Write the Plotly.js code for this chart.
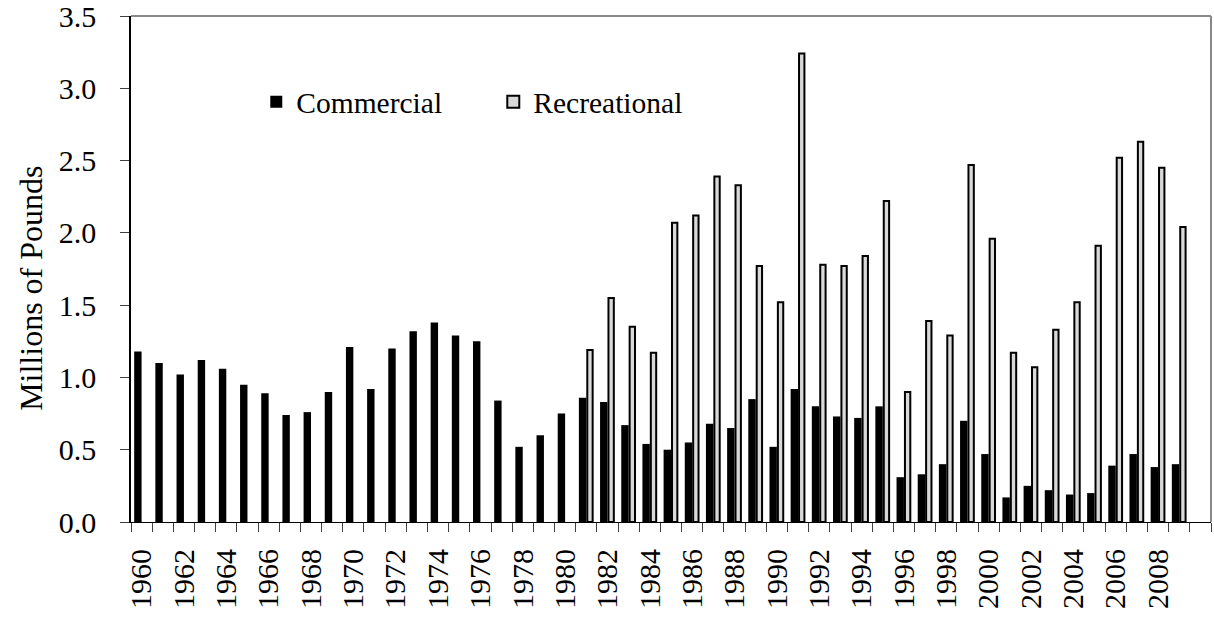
<!DOCTYPE html>
<html>
<head>
<meta charset="utf-8">
<script src="https://cdn.plot.ly/plotly-3.0.1.min.js"></script>
<style>
  html, body { margin: 0; padding: 0; background: #fff; }
  #chart { width: 1214px; height: 617px; }
</style>
</head>
<body>
<div id="chart"></div>
<script>
// Years (categories) — 2010 is an empty slot at the right end of the axis
const years = ["1960","1961","1962","1963","1964","1965","1966","1967","1968","1969",
  "1970","1971","1972","1973","1974","1975","1976","1977","1978","1979",
  "1980","1981","1982","1983","1984","1985","1986","1987","1988","1989",
  "1990","1991","1992","1993","1994","1995","1996","1997","1998","1999",
  "2000","2001","2002","2003","2004","2005","2006","2007","2008","2009","2010"];

// Commercial landings (millions of pounds)
const commercial = [1.18, 1.10, 1.02, 1.12, 1.06, 0.95, 0.89, 0.74, 0.76, 0.90,
  1.21, 0.92, 1.20, 1.32, 1.38, 1.29, 1.25, 0.84, 0.52, 0.60,
  0.75, 0.86, 0.83, 0.67, 0.54, 0.50, 0.55, 0.68, 0.65, 0.85,
  0.52, 0.92, 0.80, 0.73, 0.72, 0.80, 0.31, 0.33, 0.40, 0.70,
  0.47, 0.17, 0.25, 0.22, 0.19, 0.20, 0.39, 0.47, 0.38, 0.40, null];

// Recreational landings (millions of pounds)
const recreational = [null, null, null, null, null, null, null, null, null, null,
  null, null, null, null, null, null, null, null, null, null,
  null, 1.19, 1.55, 1.35, 1.17, 2.07, 2.12, 2.39, 2.33, 1.77,
  1.52, 3.24, 1.78, 1.77, 1.84, 2.22, 0.90, 1.39, 1.29, 2.47,
  1.96, 1.17, 1.07, 1.33, 1.52, 1.91, 2.52, 2.63, 2.45, 2.04, null];

// Tick labels: every other year
const tickLabels = years.map(y => (parseInt(y, 10) % 2 === 0 && y !== "2010") ? y : "");
const yTickVals = [0, 0.5, 1, 1.5, 2, 2.5, 3, 3.5];
const yTickText = ["0.0", "0.5", "1.0", "1.5", "2.0", "2.5", "3.0", "3.5"];

const FONT = "Liberation Serif";

const traces = [
  {
    type: "bar", name: "Commercial", x: years, y: commercial,
    offset: -0.35, width: 0.35,
    marker: { color: "#000000", line: { color: "#000000", width: 0 } },
    hoverinfo: "x+y"
  },
  {
    type: "bar", name: "Recreational", x: years, y: recreational,
    offset: 0.047, width: 0.253,
    marker: { color: "#d9d9d9", line: { color: "#000000", width: 2 } },
    hoverinfo: "x+y"
  }
];

const layout = {
  width: 1214, height: 617,
  margin: { l: 131, r: 3, t: 16, b: 95 },
  paper_bgcolor: "#ffffff", plot_bgcolor: "#ffffff",
  font: { family: FONT, size: 30, color: "#000000" },
  barmode: "overlay",
  showlegend: true,
  legend: {
    orientation: "h", x: 0.116, xanchor: "left", y: 0.83, yanchor: "middle",
    font: { family: FONT, size: 29.5, color: "#000" },
    bgcolor: "rgba(0,0,0,0)", entrywidth: 192, entrywidthmode: "pixels",
    itemclick: false, itemdoubleclick: false
  },
  xaxis: {
    type: "category", range: [-0.5, 50.5], fixedrange: true,
    tickmode: "array", tickvals: years, ticktext: tickLabels,
    tickson: "boundaries", ticks: "outside", ticklen: 9, tickwidth: 1, tickcolor: "#404040",
    tickangle: -90, ticklabelstandoff: 14, ticklabeloverflow: "allow",
    tickfont: { family: FONT, size: 30, color: "#000" },
    showline: true, linecolor: "#000000", linewidth: 1.2,
    showgrid: false, zeroline: false
  },
  yaxis: {
    range: [0, 3.5], tickmode: "array",
    tickvals: yTickVals, ticktext: yTickText,
    fixedrange: true,
    ticks: "outside", ticklen: 9, tickwidth: 1, tickcolor: "#404040",
    ticklabelstandoff: 18, ticklabeloverflow: "allow",
    tickfont: { family: FONT, size: 30, color: "#000" },
    showline: true, linecolor: "#000000", linewidth: 1.5,
    showgrid: false, zeroline: false
  },
  shapes: [
    { type: "line", xref: "paper", yref: "paper", x0: 0, x1: 1, y0: 1, y1: 1,
      line: { color: "#888888", width: 2 } },
    { type: "line", xref: "paper", yref: "paper", x0: 1, x1: 1, y0: 0, y1: 1,
      line: { color: "#888888", width: 2 } }
  ],
  annotations: [
    { text: "Millions of Pounds", xref: "paper", yref: "paper",
      x: -0.092, y: 0.462, xanchor: "center", yanchor: "middle",
      textangle: -90, showarrow: false,
      font: { family: FONT, size: 32, color: "#000" } }
  ]
};

Plotly.newPlot("chart", traces, layout, { displayModeBar: false });
</script>
</body>
</html>
